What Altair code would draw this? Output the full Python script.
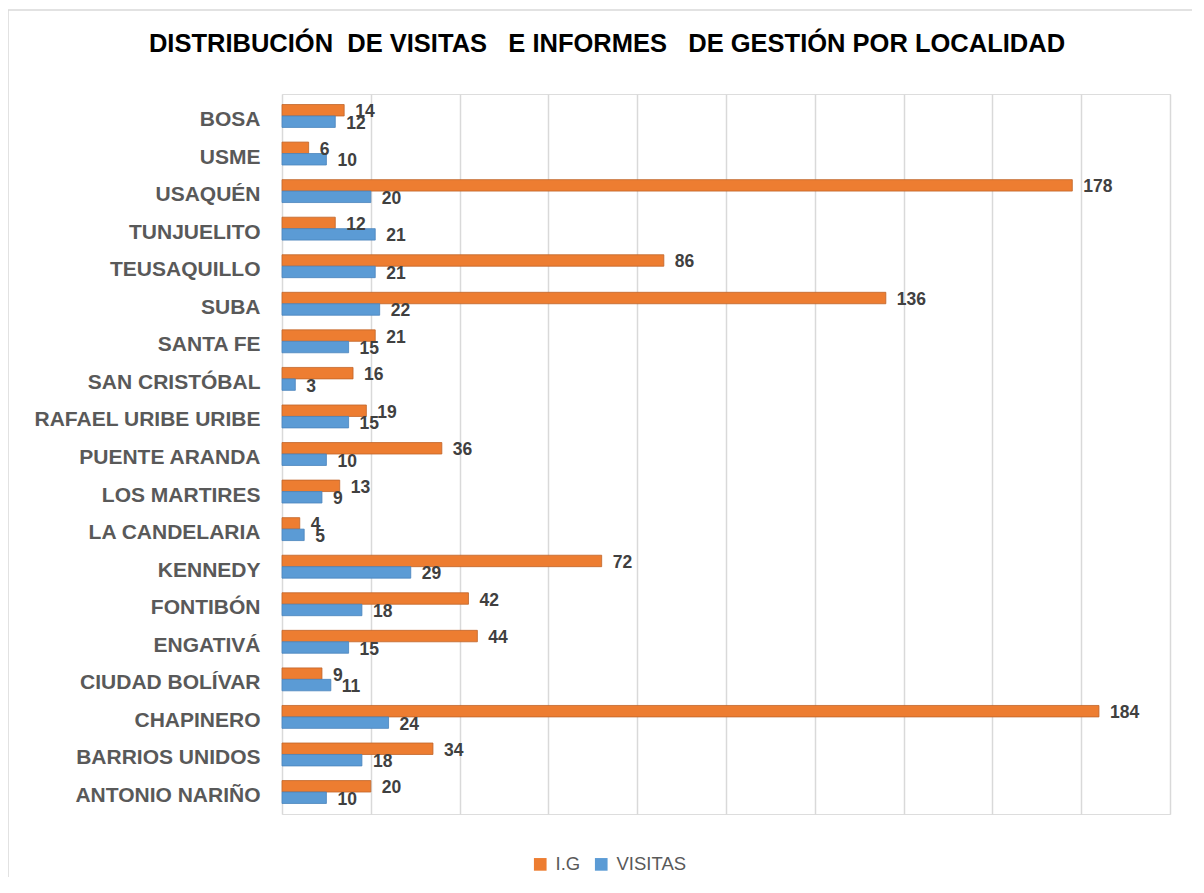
import altair as alt
import pandas as pd

localidades = ["BOSA", "USME", "USAQUÉN", "TUNJUELITO", "TEUSAQUILLO", "SUBA", "SANTA FE",
               "SAN CRISTÓBAL", "RAFAEL URIBE URIBE", "PUENTE ARANDA", "LOS MARTIRES",
               "LA CANDELARIA", "KENNEDY", "FONTIBÓN", "ENGATIVÁ", "CIUDAD BOLÍVAR",
               "CHAPINERO", "BARRIOS UNIDOS", "ANTONIO NARIÑO"]
ig = [14, 6, 178, 12, 86, 136, 21, 16, 19, 36, 13, 4, 72, 42, 44, 9, 184, 34, 20]
visitas = [12, 10, 20, 21, 21, 22, 15, 3, 15, 10, 9, 5, 29, 18, 15, 11, 24, 18, 10]
series = ["I.G", "VISITAS"]
colors = ["#ED7D31", "#5B9BD5"]
strokes = ["#C0642A", "#4A84BD"]
NB = "\u00a0"
titulo = ("DISTRIBUCIÓN" + NB + " DE VISITAS" + NB + NB + " E INFORMES" + NB + NB +
          " DE GESTIÓN POR LOCALIDAD")

rows = []
for loc, a, b in zip(localidades, ig, visitas):
    rows.append({"loc": loc, "serie": series[0], "valor": a})
    rows.append({"loc": loc, "serie": series[1], "valor": b})
df = pd.DataFrame(rows)

FONT = "Liberation Sans"

y_enc = alt.Y("loc:N", sort=localidades, title=None,
              scale=alt.Scale(paddingInner=0.39, paddingOuter=0.28),
              axis=alt.Axis(domain=False, ticks=False, labelPadding=22, labelOffset=4,
                            labelFont=FONT, labelFontSize=21, labelFontWeight="bold",
                            labelColor="#595959", labelLimit=300))
x_enc = alt.X("valor:Q", title=None,
              scale=alt.Scale(domain=[0, 200], nice=False),
              axis=alt.Axis(values=list(range(0, 201, 20)), labels=False, ticks=False,
                            domain=False, grid=True, gridColor="#d9d9d9", gridWidth=1.5))
yoff = alt.YOffset("serie:N", sort=series, scale=alt.Scale(domain=series))

one = pd.DataFrame({"a": [0]})

border = alt.Chart(one).mark_rect(
    fill=None, stroke="#d9d9d9", strokeWidth=1.5
).encode(x=alt.value(-274), x2=alt.value(916), y=alt.value(-84), y2=alt.value(792))

title = alt.Chart(one).mark_text(
    text=titulo, font=FONT, fontSize=25.5, fontWeight="bold", color="#000000",
    align="center", baseline="middle"
).encode(x=alt.value(325), y=alt.value(-50))

bars = alt.Chart(df).mark_bar(strokeWidth=0.8).encode(
    x=x_enc, y=y_enc, yOffset=yoff,
    color=alt.Color("serie:N", sort=series,
                    scale=alt.Scale(domain=series, range=colors),
                    legend=alt.Legend(title=None, orient="none", direction="horizontal",
                                      legendX=249, legendY=761, symbolType="square",
                                      symbolSize=160, symbolStrokeWidth=0,
                                      labelFont=FONT, labelFontSize=18.5,
                                      labelColor="#595959", columnPadding=11,
                                      labelOffset=6, symbolOffset=0)),
    stroke=alt.Stroke("serie:N", sort=series,
                      scale=alt.Scale(domain=series, range=strokes), legend=None),
)

labels = alt.Chart(df).mark_text(
    align="left", baseline="middle", dx=11, dy=2, font=FONT, fontSize=17.5,
    fontWeight="bold", color="#404040"
).encode(x="valor:Q", y=alt.Y("loc:N", sort=localidades), yOffset=yoff, text="valor:Q")

chart = alt.layer(border, title, bars, labels).properties(
    width=888, height=720,
    autosize=alt.AutoSizeParams(type="none"),
    padding={"left": 274, "top": 86, "right": 22, "bottom": 63},
).configure_view(stroke=None).configure(background="white")

chart.save("out.html", embed_options={"renderer": "svg", "actions": False})
